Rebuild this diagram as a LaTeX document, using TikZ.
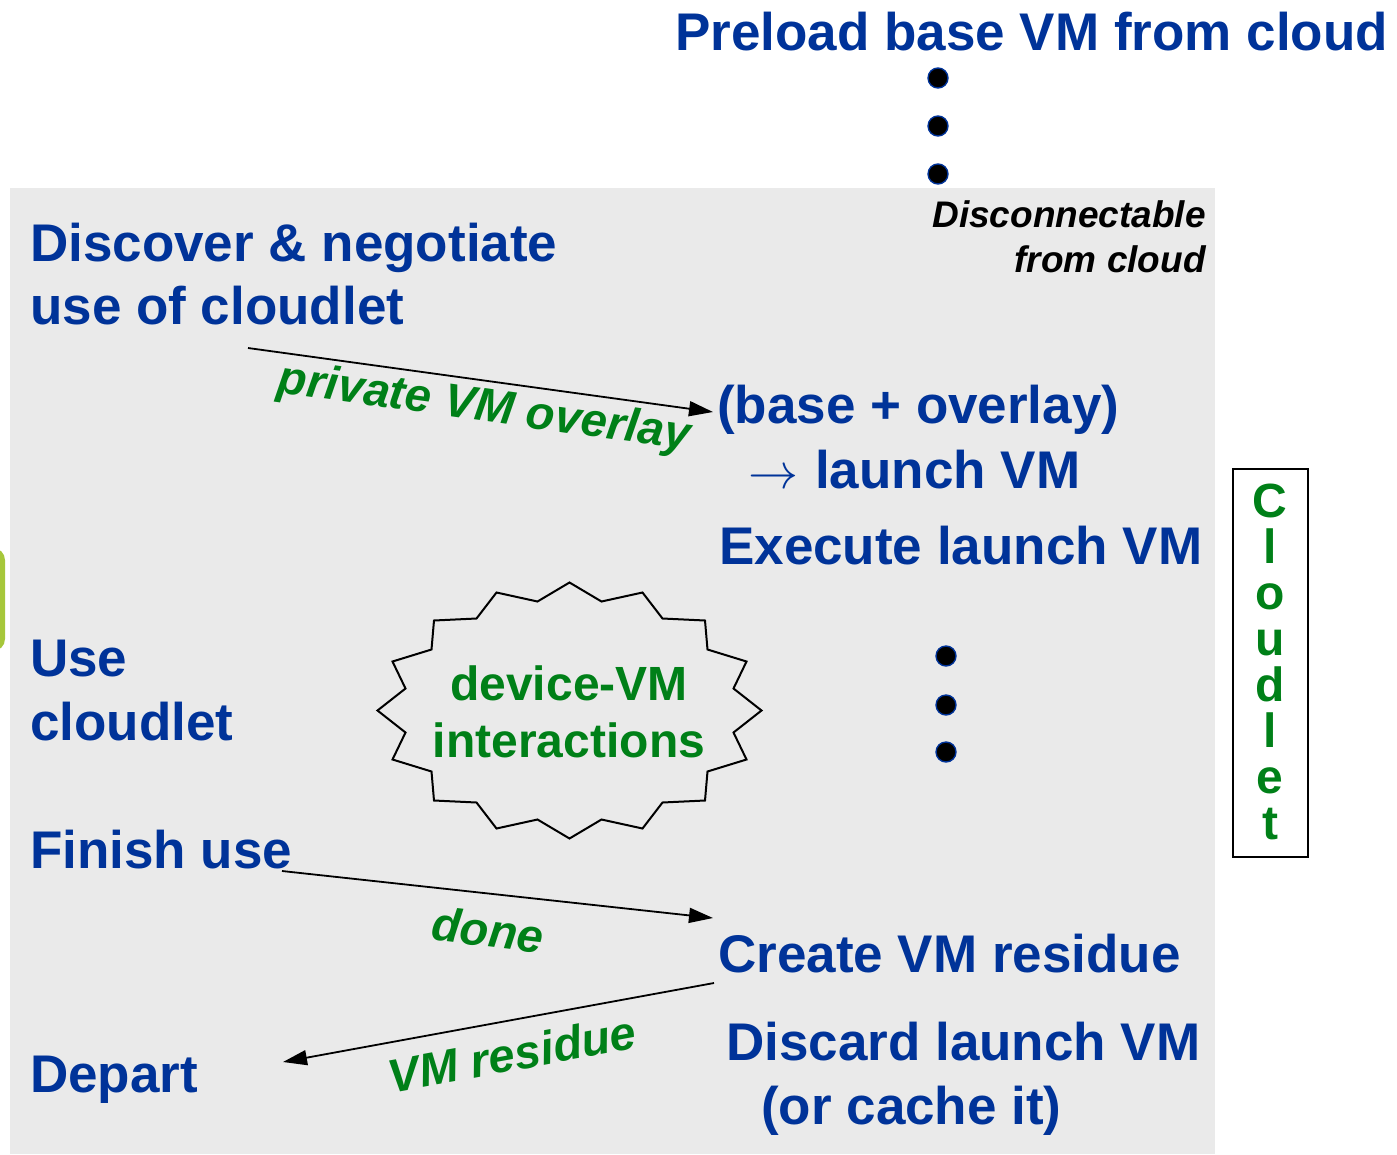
\documentclass[tikz,border=0pt]{standalone}
\usepackage{graphicx}
\usepackage{fontspec}
\setmainfont{Liberation Sans}
\usetikzlibrary{arrows.meta}

\definecolor{navy}{RGB}{0,51,153}
\definecolor{leaf}{RGB}{0,128,24}
\definecolor{panel}{RGB}{234,234,234}
\definecolor{tabgreen}{RGB}{166,199,58}

\begin{document}
\begin{tikzpicture}[x=1pt,y=-1pt,
  stage/.style={anchor=base west, inner sep=0pt, text=navy,
    font=\bfseries\fontsize{53}{64}\selectfont},
  flowlabel/.style={inner sep=0pt, text=leaf,
    font=\bfseries\itshape\fontsize{47}{56}\selectfont},
  flow/.style={line width=1.8pt, -{Triangle[length=24pt,width=15pt]}},
  vdot/.style={circle, fill=black, draw=navy, line width=1.4pt,
    minimum size=20pt, inner sep=0pt},
  burst/.style={draw=black, line width=2pt, line join=miter},
  burstlabel/.style={anchor=base, inner sep=0pt, text=leaf,
    font=\bfseries\fontsize{48}{57}\selectfont},
  letter/.style={anchor=base, inner sep=0pt, text=leaf,
    font=\bfseries\fontsize{48}{56}\selectfont},
  note/.style={anchor=base east, inner sep=0pt, text=black,
    font=\bfseries\itshape\fontsize{37}{45}\selectfont},
]
\useasboundingbox (0,0) rectangle (1397,1154);
\clip (0,0) rectangle (1397,1154);

% cloudlet panel and the tab at its left edge
\fill[tabgreen, rounded corners=12pt] (-40,548) rectangle (5,651);
\fill[panel] (10,188) rectangle (1215,1154);

% cloud side
\node[stage] (preload) at (675,50) {Preload base VM from cloud};
\node[vdot] (cd1) at (938,78) {};
\node[vdot] (cd2) at (938,126) {};
\node[vdot] (cd3) at (938,174) {};
\node[note] (disc1) at (1206,227) {Disconnectable};
\node[note] (disc2) at (1206,272) {from cloud};

% mobile device steps (left column)
\node[stage] (discover) at (30,261) {Discover \& negotiate};
\node[stage] (useof) at (30,324) {use of cloudlet};
\node[stage] (use1) at (30,676) {Use};
\node[stage] (use2) at (30,740) {cloudlet};
\node[stage] (finish) at (30,868) {Finish use};
\node[stage] (depart) at (30,1092) {Depart};

% cloudlet steps (right column)
\node[stage] (synth) at (717,423) {(base + overlay)};
\node[stage] (launch) at (748,488)
  {\resizebox{50pt}{!}{$\rightarrow$}\hspace{17pt}launch VM};
\node[stage] (exec) at (719,564) {Execute launch VM};
\node[vdot] (ed1) at (946,656) {};
\node[vdot] (ed2) at (946,705) {};
\node[vdot] (ed3) at (946,752) {};
\node[stage] (residue) at (718,972) {Create VM residue};
\node[stage] (discard) at (726,1060) {Discard launch VM};
\node[stage] (cache) at (761,1124) {(or cache it)};

% interaction cloud
\begin{scope}[shift={(569.5,710.5)}]
  \draw[burst] (0,-128) -- (32,-109) -- (73,-118) -- (93,-92) -- (135.5,-90)
    -- (138,-61) -- (177,-49) -- (164,-22) -- (192,0) -- (164,22) -- (177,49)
    -- (138,61) -- (135.5,90) -- (93,92) -- (73,118) -- (32,109) -- (0,128)
    -- (-32,109) -- (-73,118) -- (-93,92) -- (-135.5,90) -- (-138,61)
    -- (-177,49) -- (-164,22) -- (-192,0) -- (-164,-22) -- (-177,-49)
    -- (-138,-61) -- (-135.5,-90) -- (-93,-92) -- (-73,-118) -- (-32,-109)
    -- cycle;
\end{scope}
\node[burstlabel] (inter1) at (569,700) {device-VM};
\node[burstlabel] (inter2) at (569,757) {interactions};

% message arrows between device and cloudlet
\coordinate (ovS) at (248,348);
\coordinate (ovE) at (713,412);
\coordinate (dnS) at (282,871);
\coordinate (dnE) at (713,918);
\coordinate (rsS) at (714,983);
\coordinate (rsE) at (283,1062);
\draw[flow] (ovS) -- (ovE);
\draw[flow] (dnS) -- (dnE);
\draw[flow] (rsS) -- (rsE);
\node[flowlabel, rotate=-8] (lblov) at (484,409) {private VM overlay};
\node[flowlabel, rotate=-7] (lbldn) at (488,930) {done};
\node[flowlabel, rotate=10.4] (lblrs) at (512,1054) {VM residue};

% vertical "Cloudlet" tag
\node[draw=black, fill=white, line width=2.2pt, minimum width=75pt,
  minimum height=388pt, inner sep=0pt] (tag) at (1270.5,663) {};
\foreach \ch [count=\k from 0] in {C,l,o,u,d,l,e,t}
  \node[letter] (tag\k) at (1270,517+46.1*\k) {\ch};
\end{tikzpicture}
\end{document}
